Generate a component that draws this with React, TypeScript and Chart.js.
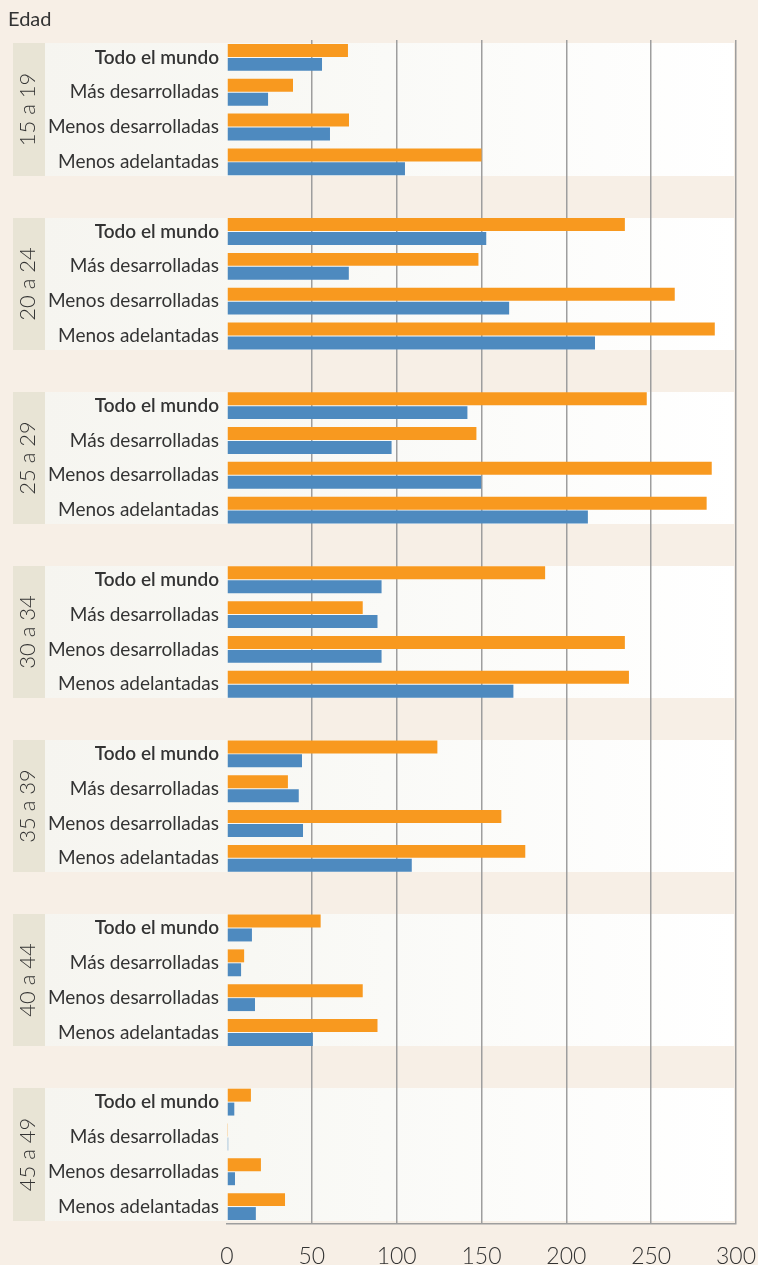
import React, { useEffect, useRef } from 'react';
import { Chart, registerables } from 'chart.js';

Chart.register(...registerables);

const ageGroups = ['15 a 19', '20 a 24', '25 a 29', '30 a 34', '35 a 39', '40 a 44', '45 a 49'];
const regions = ['Todo el mundo', 'Más desarrolladas', 'Menos desarrolladas', 'Menos adelantadas'];

// group-major order: for each age group, the four regions
const orangeValues = [
  71.3, 38.9, 71.9, 150,
  234.5, 148.2, 263.9, 287.5,
  247.4, 147.0, 285.7, 282.7,
  187.5, 80.0, 234.5, 236.9,
  124.0, 35.9, 161.7, 175.8,
  55.2, 10.1, 80.0, 88.7,
  14.1, 0.3, 20.0, 34.2,
];
const blueValues = [
  56.0, 24.2, 60.7, 104.9,
  152.8, 71.8, 166.3, 216.9,
  141.7, 97.0, 149.8, 212.7,
  91.1, 88.7, 91.1, 168.8,
  44.2, 42.3, 44.8, 108.9,
  14.7, 8.3, 16.5, 50.6,
  4.3, 0.7, 4.7, 17.0,
];
const xTickValues = [0, 50, 100, 150, 200, 250, 300];

const FONT = 'Lato, "Open Sans", sans-serif';
const BG = '#F7EFE6';
const AGE_BOX = '#E8E4D5';
const ORANGE = '#F8991F';
const BLUE = '#4E8ABF';
const GRID = '#9E9E9E';
const TEXT = '#333333';
const CAT_PCT = 0.8;
const BAR_PCT = 0.93;
const SLOTS_PER_GROUP = regions.length + 1;

export default function App() {
  const ref = useRef<HTMLCanvasElement>(null);

  useEffect(() => {
    const labels: string[] = [];
    const orange: (number | null)[] = [];
    const blue: (number | null)[] = [];
    ageGroups.forEach((_, gi) => {
      regions.forEach((r, ri) => {
        labels.push(r);
        orange.push(orangeValues[gi * regions.length + ri]);
        blue.push(blueValues[gi * regions.length + ri]);
      });
      if (gi < ageGroups.length - 1) {
        labels.push('');
        orange.push(null);
        blue.push(null);
      }
    });

    const panelPlugin = {
      id: 'panels',
      beforeDraw(chart: any) {
        const { ctx, chartArea, scales } = chart;
        const y = scales.y;
        ctx.save();
        ctx.fillStyle = BG;
        ctx.fillRect(0, 0, chart.width, chart.height);
        const slot = y.getPixelForValue(1) - y.getPixelForValue(0);
        const half = (slot * CAT_PCT) / 2;
        ageGroups.forEach((g, gi) => {
          const top = Math.round(y.getPixelForValue(gi * SLOTS_PER_GROUP) - half);
          const bot = Math.round(y.getPixelForValue(gi * SLOTS_PER_GROUP + regions.length - 1) + half);
          const grad = ctx.createLinearGradient(45, 0, chartArea.right, 0);
          grad.addColorStop(0, '#F6F5F0');
          grad.addColorStop(0.3, '#F8F8F4');
          grad.addColorStop(1, '#FFFFFF');
          ctx.fillStyle = grad;
          ctx.fillRect(45, top, chartArea.right - 2 - 45, bot - top);
          ctx.fillStyle = AGE_BOX;
          ctx.fillRect(13, top, 32, bot - top);
          ctx.save();
          ctx.translate(35, (top + bot) / 2);
          ctx.rotate(-Math.PI / 2);
          ctx.fillStyle = TEXT;
          ctx.font = `300 22px ${FONT}`;
          ctx.textAlign = 'center';
          ctx.textBaseline = 'alphabetic';
          ctx.fillText(g, 0, 0);
          ctx.restore();
        });
        ctx.fillStyle = TEXT;
        ctx.font = `400 20px ${FONT}`;
        ctx.textAlign = 'left';
        ctx.textBaseline = 'alphabetic';
        ctx.fillText('Edad', 8, 26);
        ctx.restore();
      },
    };

    const chart = new Chart(ref.current as HTMLCanvasElement, {
      type: 'bar',
      data: {
        labels,
        datasets: [
          {
            label: 'Naranja',
            data: orange,
            backgroundColor: ORANGE,
            categoryPercentage: CAT_PCT,
            barPercentage: BAR_PCT,
            borderWidth: 0,
          },
          {
            label: 'Azul',
            data: blue,
            backgroundColor: BLUE,
            categoryPercentage: CAT_PCT,
            barPercentage: BAR_PCT,
            borderWidth: 0,
          },
        ],
      },
      options: {
        indexAxis: 'y',
        animation: false,
        responsive: false,
        maintainAspectRatio: false,
        layout: { padding: { top: 40, right: 22, bottom: 0, left: 0 } },
        plugins: {
          legend: { display: false },
          tooltip: { enabled: false },
        },
        scales: {
          x: {
            min: 0,
            max: 300,
            afterBuildTicks: (scale: any) => {
              scale.ticks = xTickValues.map((v) => ({ value: v }));
            },
            afterFit: (scale: any) => {
              scale.height = 41;
              scale.paddingRight = 0;
              scale.paddingLeft = 0;
            },
            grid: {
              drawTicks: false,
              color: (c: any) => (c.tick && c.tick.value === 0 ? 'rgba(0,0,0,0)' : GRID),
              lineWidth: 1.5,
            },
            border: { display: true, color: GRID, width: 1.5 },
            ticks: {
              padding: 19,
              color: TEXT,
              font: { family: FONT, size: 23, weight: '300' },
            },
          },
          y: {
            afterFit: (scale: any) => {
              scale.width = 227;
            },
            grid: { display: false, drawTicks: false },
            border: { display: false },
            ticks: {
              autoSkip: false,
              padding: 8,
              color: TEXT,
              font: (c: any) => ({
                family: FONT,
                size: 19,
                weight: c.index % SLOTS_PER_GROUP === 0 ? '600' : '400',
              }),
            },
          },
        },
      },
      plugins: [panelPlugin],
    });
    return () => chart.destroy();
  }, []);

  return (
    <div style={{ position: 'absolute', left: 0, top: 0, width: 758, height: 1265, background: BG }}>
      <canvas ref={ref} width={758} height={1265} style={{ display: 'block', width: 758, height: 1265 }} />
    </div>
  );
}
